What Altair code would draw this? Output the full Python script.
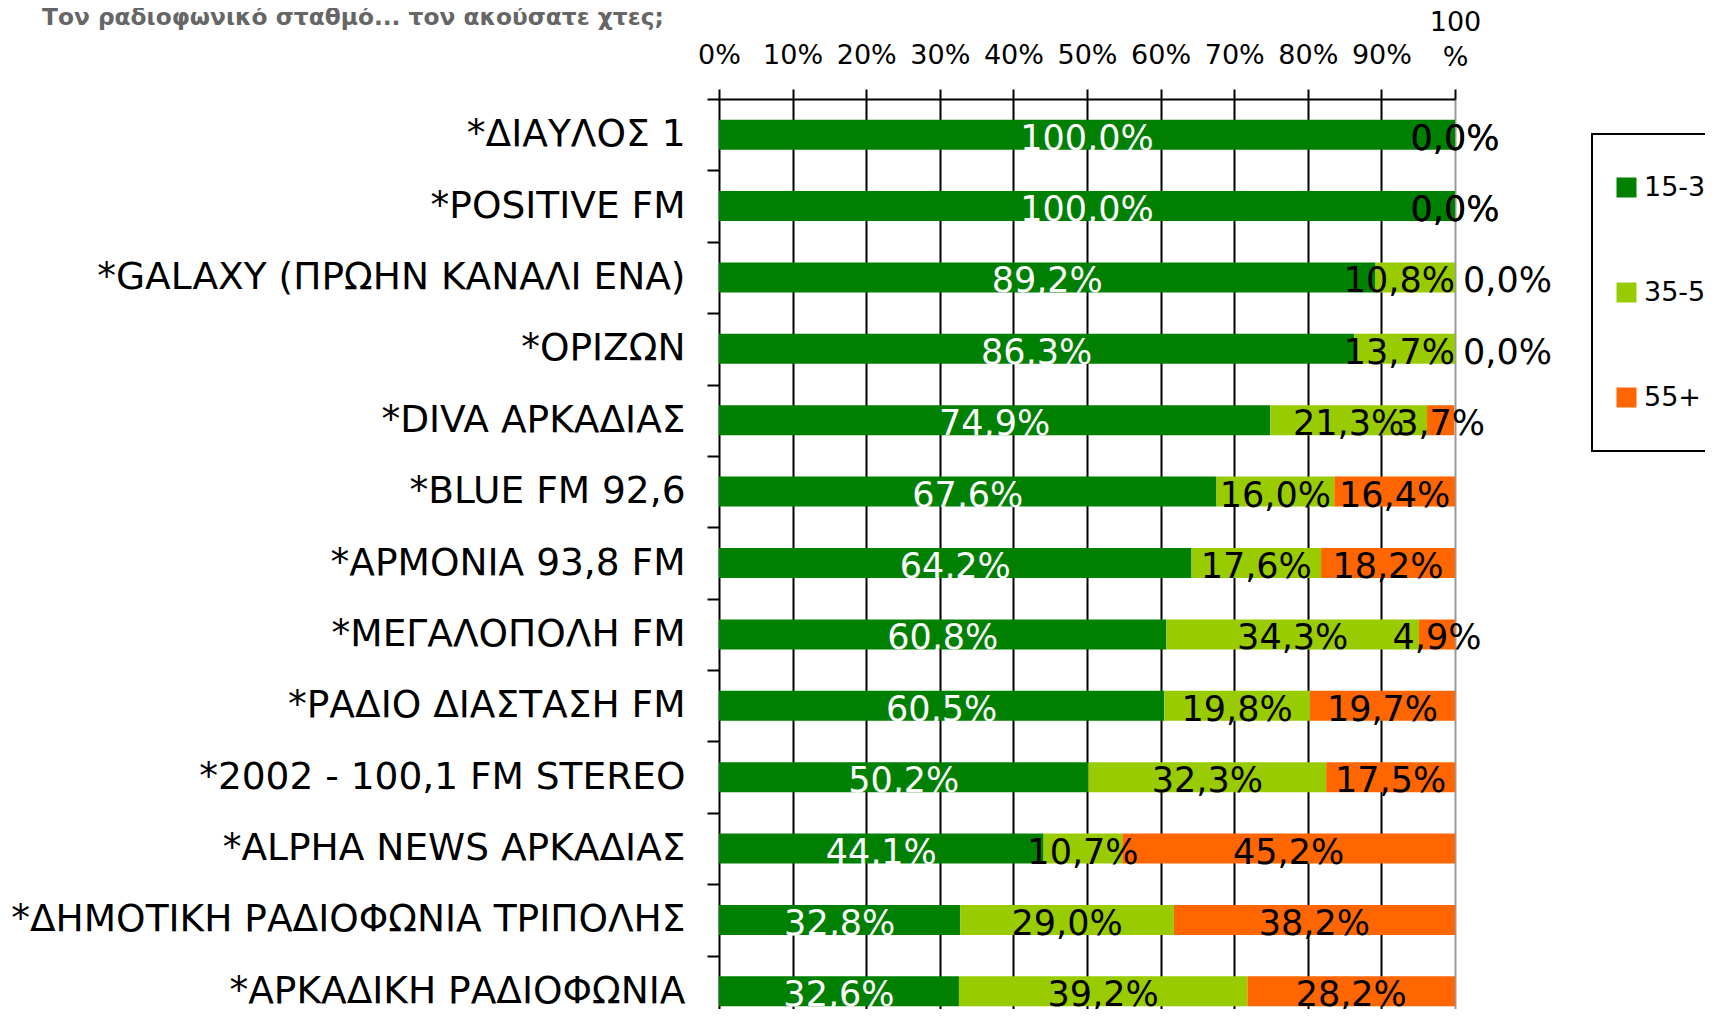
import altair as alt
import pandas as pd

stations = [
    "*ΔΙΑΥΛΟΣ 1",
    "*POSITIVE FM",
    "*GALAXY (ΠΡΩΗΝ ΚΑΝΑΛΙ ΕΝΑ)",
    "*ΟΡΙΖΩΝ",
    "*DIVA ΑΡΚΑΔΙΑΣ",
    "*BLUE FM 92,6",
    "*ΑΡΜΟΝΙΑ 93,8 FM",
    "*ΜΕΓΑΛΟΠΟΛΗ FM",
    "*ΡΑΔΙΟ ΔΙΑΣΤΑΣΗ FM",
    "*2002 - 100,1 FM STEREO",
    "*ALPHA NEWS ΑΡΚΑΔΙΑΣ",
    "*ΔΗΜΟΤΙΚΗ ΡΑΔΙΟΦΩΝΙΑ ΤΡΙΠΟΛΗΣ",
    "*ΑΡΚΑΔΙΚΗ ΡΑΔΙΟΦΩΝΙΑ",
]
age_groups = ["15-34", "35-54", "55+"]
age_15_34 = [100.0, 100.0, 89.2, 86.3, 74.9, 67.6, 64.2, 60.8, 60.5, 50.2, 44.1, 32.8, 32.6]
age_35_54 = [0.0, 0.0, 10.8, 13.7, 21.3, 16.0, 17.6, 34.3, 19.8, 32.3, 10.7, 29.0, 39.2]
age_55_plus = [0.0, 0.0, 0.0, 0.0, 3.7, 16.4, 18.2, 4.9, 19.7, 17.5, 45.2, 38.2, 28.2]
colors = ["#008000", "#99CC00", "#FF6600"]
title_text = "Τον ραδιοφωνικό σταθμό... τον ακούσατε χτες;"

rows = []
for gi, (g, vals) in enumerate(zip(age_groups, [age_15_34, age_35_54, age_55_plus])):
    for i, (s, v) in enumerate(zip(stations, vals)):
        rows.append({
            "station": s, "group": g, "order": gi, "value": v,
            "v_mid": age_35_54[i], "v_old": age_55_plus[i],
        })
df = pd.DataFrame(rows)

FONT = "DejaVu Sans"

base = alt.Chart(df).transform_stack(
    stack="value", groupby=["station"], sort=[alt.SortField("order")], as_=["x0", "x1"]
).transform_calculate(
    mid="(datum.x0 + datum.x1) / 2",
    lbl="replace(format(datum.value, '.1f'), '.', ',') + '%'",
    place="(datum.group == '55+' && datum.value == 0 && datum.v_mid > 0) ? 'left' : "
          "((datum.group == '35-54' && datum.v_old == 0 && datum.value > 0) ? 'right' : 'center')",
)

y_enc = alt.Y(
    "station:N",
    sort=stations,
    title=None,
    scale=alt.Scale(range=[0, 928], paddingInner=0, paddingOuter=0),
    axis=alt.Axis(
        orient="left",
        labelFont=FONT,
        labelFontSize=37.5,
        labelColor="black",
        labelPadding=22,
        labelLimit=800,
        tickBand="extent",
        ticks=True,
        tickSize=12,
        tickColor="black",
        tickWidth=2,
        domain=False,
        grid=False,
    ),
)

x_axis = alt.Axis(
    orient="top",
    values=[0, 10, 20, 30, 40, 50, 60, 70, 80, 90, 100],
    labelExpr="datum.value == 100 ? ['100', '%'] : datum.value + '%'",
    labelFont=FONT,
    labelFontSize=27,
    labelColor="black",
    labelPadding=alt.ConditionalAxisNumber(
        condition={"test": "datum.value == 100", "value": 53}, value=20
    ),
    labelLineHeight=35,
    labelOverlap=False,
    labelFlush=False,
    ticks=True,
    tickSize=10,
    tickColor="black",
    tickWidth=2,
    domain=True,
    domainColor="black",
    domainWidth=2,
    grid=True,
    gridColor=alt.ConditionalAxisColor(
        condition={"test": "datum.value == 100", "value": "#999999"}, value="black"
    ),
    gridWidth=2,
    gridOpacity=1,
    title=None,
)

bars = base.mark_bar(size=30).encode(
    x=alt.X("x0:Q", scale=alt.Scale(domain=[0, 100], nice=False), axis=x_axis),
    x2="x1:Q",
    y=y_enc,
    color=alt.Color(
        "group:N",
        scale=alt.Scale(domain=age_groups, range=colors),
        legend=alt.Legend(
            title=None,
            orient="none",
            legendX=873,
            legendY=35,
            direction="vertical",
            padding=40,
            symbolOffset=-19,
            rowPadding=77,
            symbolType="square",
            symbolSize=400,
            symbolStrokeWidth=0,
            labelFont=FONT,
            labelFontSize=27,
            labelColor="black",
            labelOffset=4,
            strokeColor="black",
            fillColor="white",
        ),
    ),
)

label_color = alt.condition(
    alt.datum.group == "15-34", alt.value("white"), alt.value("black")
)


def label_layer(place, field, align, dx):
    return base.transform_filter(alt.datum.place == place).mark_text(
        font=FONT, fontSize=35, baseline="alphabetic", dy=15, align=align, dx=dx
    ).encode(
        x=alt.X(f"{field}:Q"),
        y=alt.Y("station:N", sort=stations),
        text="lbl:N",
        color=label_color,
    )


labels_center = label_layer("center", "mid", "center", 0)
labels_right = label_layer("right", "x1", "right", 0)
labels_left = label_layer("left", "x1", "left", 8)

chart = (
    alt.layer(bars, labels_center, labels_right, labels_left)
    .properties(
        width=736,
        height=910,
        autosize=alt.AutoSizeParams(type="none"),
        padding={"left": 711, "top": 91, "right": 250, "bottom": 0},
        title=alt.TitleParams(
            title_text,
            anchor="start",
            frame="group",
            orient="top",
            offset=0,
            dx=-677,
            dy=40,
            font="DejaVu Sans",
            fontSize=23.3,
            fontWeight="bold",
            color="#666666",
            baseline="alphabetic",
        ),
    )
    .configure_view(stroke=None)
    .configure_legend(strokeWidth=2)
)

chart.save("out.html", embed_options={"renderer": "svg", "actions": False})
